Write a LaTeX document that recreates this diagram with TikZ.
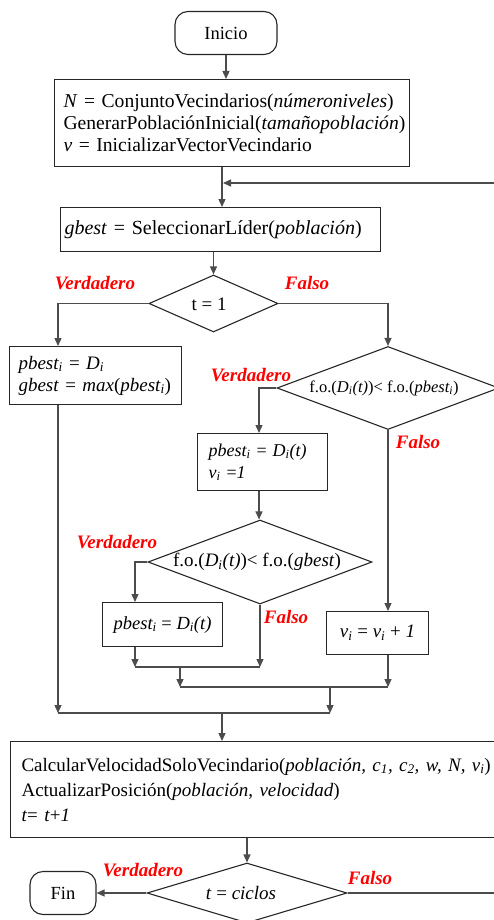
\documentclass[tikz,border=0pt]{standalone}
\usepackage{fontspec}
\setmainfont{Liberation Serif}
\usetikzlibrary{shapes.geometric,arrows.meta}
\begin{document}
\begin{tikzpicture}[x=1pt,y=-1pt,
  line/.style={draw=black!70, line width=1.3pt},
  arr/.style={line, -{Triangle[length=8pt,width=7pt]}},
  box/.style={draw=black!85, line width=1.1pt, inner sep=0pt, anchor=north west, font=\fontsize{19}{22}\selectfont},
  term/.style={draw=black!85, line width=1.1pt, rounded corners=13pt, inner sep=0pt, font=\fontsize{18.5}{22}\selectfont},
  dia/.style={draw=black!85, line width=1.1pt, shape=diamond, inner sep=0pt},
  lbl/.style={text=red, font=\fontsize{19}{22}\selectfont\bfseries\itshape},
  txt/.style={font=\fontsize{19}{22}\selectfont, inner sep=0pt}
]
\useasboundingbox (0,0) rectangle (494,920);
% nodes
\node[term, minimum width=102, minimum height=43] (start) at (226,33) {Inicio};
\node[box, text width=337, inner xsep=9, minimum height=87, align=left, font=\fontsize{19.6}{22}\selectfont] (b1) at (54,79)
  {\textit{N} = ConjuntoVecindarios(\textit{númeroniveles})\\GenerarPoblaciónInicial(\textit{tamañopoblación})\\\textit{v} = InicializarVectorVecindario};
\node[box, text width=312, inner xsep=4, minimum height=44, align=left, font=\fontsize{20}{22}\selectfont] (b2) at (60,207)
  {\textit{gbest} = SeleccionarLíder(\textit{población})};
\node[dia, minimum width=129, minimum height=57] (d1) at (213.5,303.5) {};
\node[txt] (d1t) at (209,304) {t = 1};
\node[box, text width=154, inner xsep=9, minimum height=58, align=left] (b3) at (9,346)
  {\textit{pbest\textsubscript{i}} = \textit{D\textsubscript{i}}\\\textit{gbest} = \textit{max}(\textit{pbest\textsubscript{i}})};
\node[dia, minimum width=222, minimum height=83] (d2) at (388,388) {};
\node[txt, font=\fontsize{16.5}{22}\selectfont] (d2t) at (384,388) {f.o.(\textit{D\textsubscript{i}(t)})< f.o.(\textit{pbest\textsubscript{i}})};
\node[box, text width=108, inner xsep=11, minimum height=57, align=left, font=\fontsize{18}{22}\selectfont] (b4) at (197,433)
  {\textit{pbest\textsubscript{i}} = \textit{D\textsubscript{i}(t)}\\\textit{v\textsubscript{i}} =\textit{1}};
\node[dia, minimum width=224, minimum height=84] (d3) at (260,562) {};
\node[txt] (d3t) at (257,562) {f.o.(\textit{D\textsubscript{i}(t)})< f.o.(\textit{gbest})};
\node[box, minimum width=120, minimum height=44, font=\fontsize{18.5}{22}\selectfont] (b5) at (102,602)
  {\textit{pbest\textsubscript{i}} = \textit{D\textsubscript{i}(t)}};
\node[box, minimum width=102, minimum height=43] (b6) at (326,611)
  {\textit{v\textsubscript{i}} = \textit{v\textsubscript{i}} + \textit{1}};
\node[box, text width=478, inner xsep=11, minimum height=96, align=left,
  font=\fontsize{19}{25}\selectfont] (b7) at (10,741)
  {CalcularVelocidadSoloVecindario(\textit{población, c\textsubscript{1}, c\textsubscript{2}, w, N, v\textsubscript{i}})\\ActualizarPosición(\textit{población}, \textit{velocidad})\\\textit{t}= \textit{t}+\textit{1}};
\node[dia, minimum width=200, minimum height=60] (d4) at (247,893) {};
\node[txt] (d4t) at (241,893) {\textit{t} = \textit{ciclos}};
\node[term, minimum width=66, minimum height=43] (fin) at (63,893) {Fin};
% labels
\node[lbl] (v1) at (95,283) {Verdadero};
\node[lbl] (f1) at (307,283) {Falso};
\node[lbl] (v2) at (251,375) {Verdadero};
\node[lbl] (f2) at (418,442) {Falso};
\node[lbl] (v3) at (117,542) {Verdadero};
\node[lbl] (f3) at (286,617) {Falso};
\node[lbl] (v4) at (143,870) {Verdadero};
\node[lbl] (f4) at (370,878) {Falso};
% helper coordinates
\coordinate (m1) at (222,183);
\coordinate (L) at (58,0);
\coordinate (X4) at (259,0);
\coordinate (X5) at (135,0);
\coordinate (X6) at (180,0);
\coordinate (X7) at (330,0);
\coordinate (j1) at (0,667);
\coordinate (j2) at (0,687);
\coordinate (j3) at (0,713);
\coordinate (rr) at (500,893);
% connectors
\draw[arr] (start.south) -- (start.south |- b1.north);
\draw[arr] (m1 |- b1.south) -- (m1 |- b2.north);
\draw[arr] (d4.east) -- (rr) -- (rr |- m1) -- ([xshift=1pt]m1);
\draw[arr] (d1.north |- b2.south) -- (d1.north);
\draw[arr] (d1.west) -| (L |- b3.north);
\draw[arr] (d1.east) -| (d2.north);
\draw[arr] (d2.west) -| (X4 |- b4.north);
\draw[arr] (X4 |- b4.south) -- (X4 |- d3.north);
\draw[arr] (d3.west) -| (X5 |- b5.north);
\draw[arr] (d2.south) -- (d2.south |- b6.north);
\draw[arr] (X5 |- b5.south) -- (X5 |- j1);
\draw[arr] (d3.south) -- (d3.south |- j1);
\draw[line] (X5 |- j1) -- (d3.south |- j1);
\draw[arr] (X6 |- j1) -- (X6 |- j2);
\draw[arr] (d2.south |- b6.south) -- (d2.south |- j2);
\draw[line] (X6 |- j2) -- (d2.south |- j2);
\draw[arr] (X7 |- j2) -- (X7 |- j3);
\draw[arr] (L |- b3.south) -- (L |- j3);
\draw[line] (L |- j3) -- (X7 |- j3);
\draw[arr] (m1 |- j3) -- (m1 |- b7.north);
\draw[arr] (d4.north |- b7.south) -- (d4.north);
\draw[arr] (d4.west) -- (fin.east);
\end{tikzpicture}
\end{document}
